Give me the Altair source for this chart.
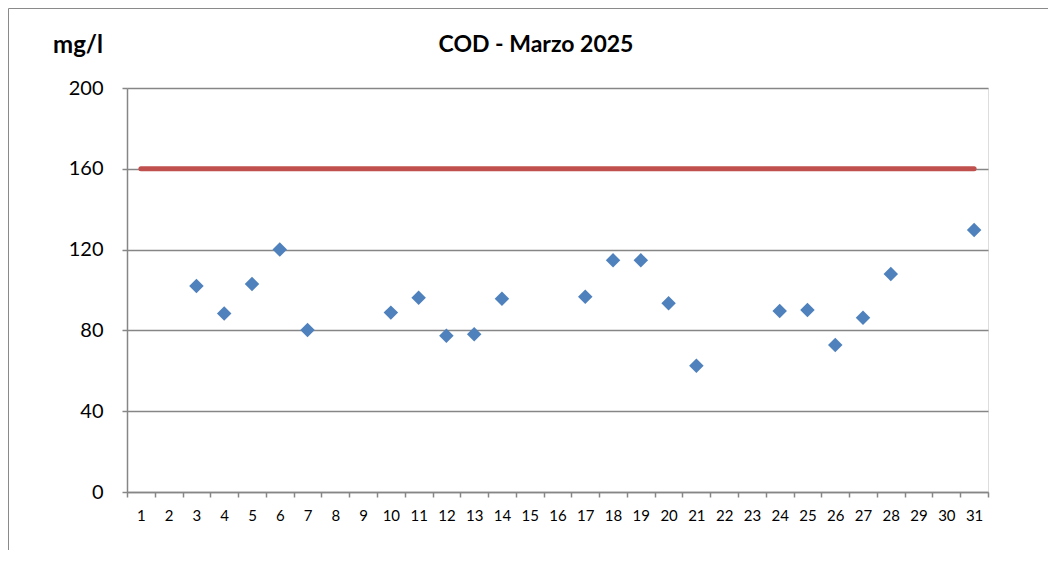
import altair as alt
import pandas as pd

days = list(range(1, 32))
meas_days = [3, 4, 5, 6, 7, 10, 11, 12, 13, 14, 17, 18, 19, 20, 21, 24, 25, 26, 27, 28, 31]
cod_values = [102, 88.4, 103, 120, 80.2, 88.8, 96.2, 77.4, 78.1, 95.7,
              96.7, 114.7, 114.7, 93.4, 62.5, 89.6, 90.1, 72.8, 86.3, 107.9, 129.7]
limit_value = 160
y_ticks = [0, 40, 80, 120, 160, 200]
title_text = "COD - Marzo 2025"
unit_text = "mg/l"

FONT = "Lato"
GRID = "#868686"

pts = pd.DataFrame({"day": meas_days, "cod": cod_values})
lim = pd.DataFrame({"day": days, "limit": [limit_value] * len(days)})

xscale = alt.Scale(type="band", domain=days, paddingInner=0, paddingOuter=0)
yscale = alt.Scale(domain=[0, 200], nice=False)

xaxis = alt.Axis(title=None, tickBand="extent", grid=False, labelAngle=0,
                 labelFontSize=15, labelFont=FONT, labelColor="black",
                 tickSize=5, tickColor=GRID, domainColor=GRID, labelPadding=11,
                 domainWidth=1.5, tickWidth=1.5)
yaxis = alt.Axis(title=None, values=y_ticks, grid=True, gridColor=GRID, gridWidth=1.5,
                 labelFontSize=20, labelFont=FONT, labelColor="black",
                 tickSize=5, tickColor=GRID, domainColor=GRID, labelPadding=19,
                 domainWidth=1.5, tickWidth=1.5)

border = alt.Chart(pd.DataFrame({"a": [0]})).mark_rect(
    fillOpacity=0, stroke="#8a8a8a", strokeWidth=1
).encode(x=alt.value(-118.5), y=alt.value(-79.5), x2=alt.value(3000), y2=alt.value(3000))

line = alt.Chart(lim).mark_line(color="#C0504D", strokeWidth=5, strokeCap="round").encode(
    x=alt.X("day:O", scale=xscale, axis=xaxis),
    y=alt.Y("limit:Q", scale=yscale, axis=yaxis),
)

points = alt.Chart(pts).mark_point(shape="diamond", filled=True, size=210,
                                   color="#4F81BD", opacity=1).encode(
    x=alt.X("day:O", scale=xscale),
    y=alt.Y("cod:Q", scale=yscale),
)

title = alt.Chart(pd.DataFrame({"t": [title_text]})).mark_text(
    font=FONT, fontSize=23, fontWeight="bold", align="center", baseline="alphabetic", color="black"
).encode(text="t:N", x=alt.value(409), y=alt.value(-36))

unit = alt.Chart(pd.DataFrame({"t": [unit_text]})).mark_text(
    font=FONT, fontSize=24, fontWeight="bold", align="right", baseline="alphabetic", color="black"
).encode(text="t:N", x=alt.value(-24), y=alt.value(-35))

chart = alt.layer(border, line, points, title, unit).properties(
    width=861, height=404,
    autosize=alt.AutoSizeParams(type="none"),
    padding={"left": 119, "top": 80, "right": 60, "bottom": 58},
).configure_view(stroke=None).configure(background="white")

chart.save("out.html", embed_options={"renderer": "svg", "actions": False})
